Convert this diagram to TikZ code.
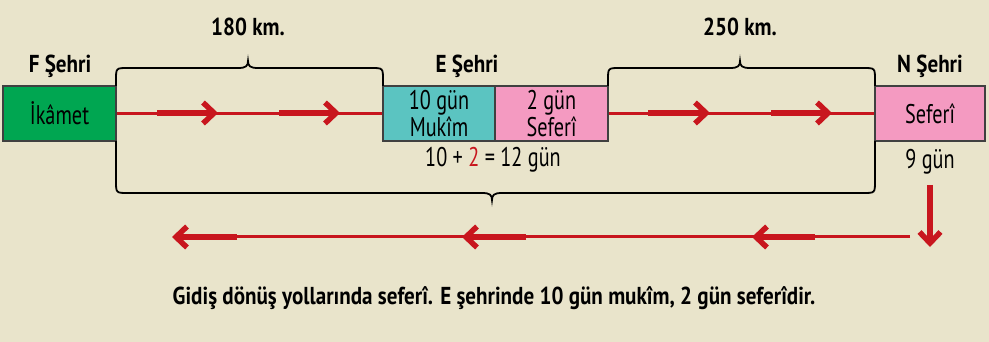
\documentclass[tikz,border=0pt]{standalone}
\usepackage{fontspec}
\setmainfont{PT Sans}[FakeStretch=0.75, BoldFeatures={FakeStretch=0.86}]
\usetikzlibrary{arrows.meta}
\definecolor{bg}{HTML}{E9E4CB}
\definecolor{fgreen}{HTML}{00A651}
\definecolor{fteal}{HTML}{5BC4C1}
\definecolor{fpink}{HTML}{F49AC1}
\definecolor{fred}{HTML}{C8161E}
\begin{document}
\begin{tikzpicture}[x=1pt,y=-1pt,
  box/.style={draw=black!75, line width=1.2pt, minimum height=55pt, inner sep=0pt,
    font=\fontsize{27}{25}\selectfont, align=center},
  lab/.style={font=\bfseries\fontsize{24.5}{26}\selectfont, inner sep=0pt},
  txt/.style={font=\fontsize{27}{28}\selectfont, inner sep=0pt},
  brace/.style={draw=black, line width=1.8pt},
  redline/.style={draw=fred, line width=3pt},
  thickarr/.style={draw=fred, line width=6pt,
    -{Straight Barb[length=11pt,width=21pt,line width=5.5pt]}}]
\fill[bg] (0,0) rectangle (989,342);
\useasboundingbox (0,0) rectangle (989,342);
% boxes
\node[box, fill=fgreen, minimum width=113pt] (F) at (59.5,113.5) {İkâmet};
\node[box, fill=fteal, minimum width=112pt] (EM) at (439,113.5) {10 gün\\Mukîm};
\node[box, fill=fpink, minimum width=113pt] (ES) at (551.5,113.5) {2 gün\\Seferî};
\node[box, fill=fpink, minimum width=110pt] (N) at (930,113.5) {Seferî};
% labels
\node[lab] (fl) at (60,66) {F Şehri};
\node[lab] (el) at (467,66) {E Şehri};
\node[lab] (nl) at (930,66) {N Şehri};
\node[lab] (k1) at (248,27) {180 km.};
\node[lab] (k2) at (740,27) {250 km.};
\node[txt] (sum) at (493,160) {10 + \textcolor{fred}{2} = 12 gün};
\node[txt] (nine) at (930,162) {9 gün};
\node[lab] (note) at (494,298) {Gidiş dönüş yollarında seferî. E şehrinde 10 gün mukîm, 2 gün seferîdir.};
% braces
\draw[brace] (116,86) -- (116,80) .. controls (116,68) .. (128,68) -- (238,68)
  .. controls (246,68) and (248,66) .. (248,61) .. controls (248,66) and (250,68) .. (258,68)
  -- (371,68) .. controls (383,68) .. (383,80) -- (383,86);
\draw[brace] (608,86) -- (608,80) .. controls (608,68) .. (620,68) -- (730,68)
  .. controls (738,68) and (740,66) .. (740,61) .. controls (740,66) and (742,68) .. (750,68)
  -- (863,68) .. controls (875,68) .. (875,80) -- (875,86);
\draw[brace] (116,141) -- (116,181) .. controls (116,193) .. (128,193) -- (482,193)
  .. controls (490,193) and (492,195) .. (492,200) .. controls (492,195) and (494,193) .. (502,193)
  -- (863,193) .. controls (875,193) .. (875,181) -- (875,141);
% forward lines
\draw[redline] (F.east) -- (EM.west);
\draw[redline] (ES.east) -- (N.west);
\coordinate (a1s) at (157,113); \coordinate (a1e) at (218,113);
\coordinate (a2s) at (279,113); \coordinate (a2e) at (340,113);
\coordinate (a3s) at (648,113); \coordinate (a3e) at (710,113);
\coordinate (a4s) at (771,113); \coordinate (a4e) at (832,113);
\draw[thickarr] (a1s) -- (a1e);
\draw[thickarr] (a2s) -- (a2e);
\draw[thickarr] (a3s) -- (a3e);
\draw[thickarr] (a4s) -- (a4e);
% down arrow
\coordinate (ds) at (930,185); \coordinate (de) at (930,247);
\draw[thickarr] (ds) -- (de);
% return line
\coordinate (r0) at (910,237); \coordinate (r1) at (176,237);
\draw[redline] (r0) -- (r1);
\coordinate (b1s) at (815,237); \coordinate (b1e) at (752,237);
\coordinate (b2s) at (526,237); \coordinate (b2e) at (462,237);
\coordinate (b3s) at (237,237); \coordinate (b3e) at (172,237);
\draw[thickarr] (b1s) -- (b1e);
\draw[thickarr] (b2s) -- (b2e);
\draw[thickarr] (b3s) -- (b3e);
\end{tikzpicture}
\end{document}
